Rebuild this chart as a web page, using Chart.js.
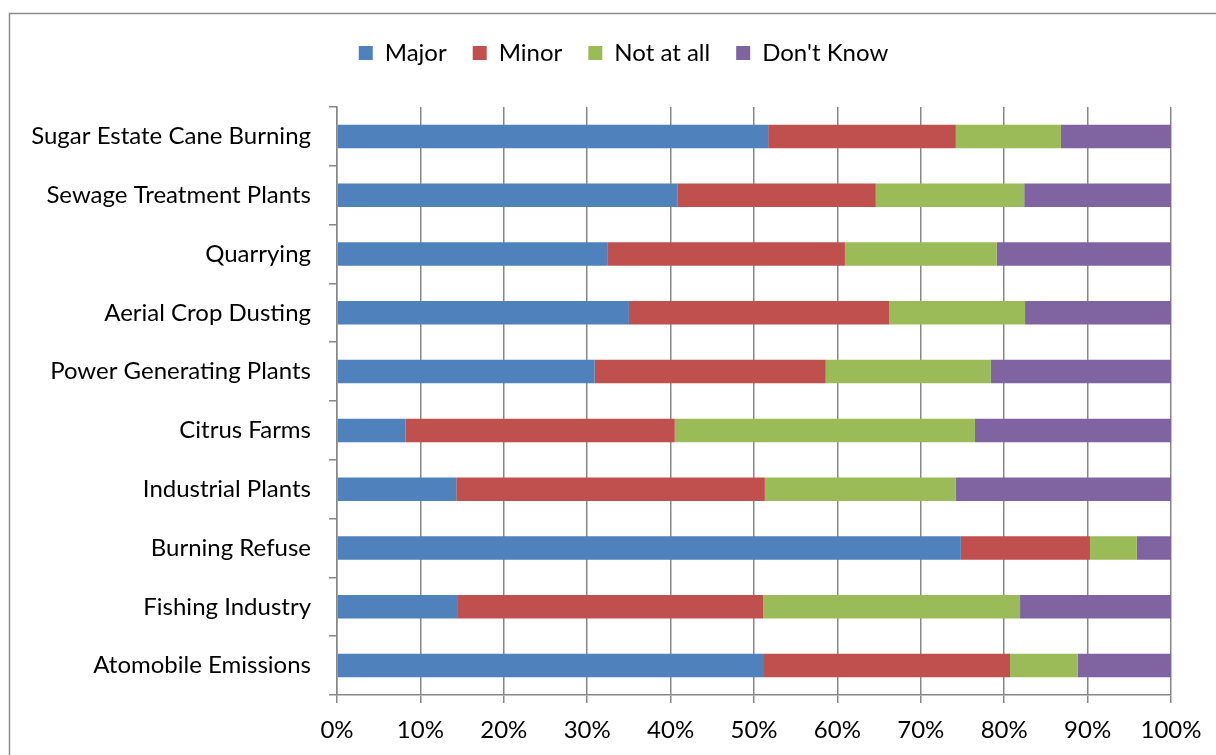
<!DOCTYPE html>
<html>
<head>
<meta charset="utf-8">
<script src="https://cdn.jsdelivr.net/npm/chart.js@4"></script>
<style>
  html, body { margin: 0; padding: 0; background: #fff; }
  canvas { display: block; }
</style>
</head>
<body>
<canvas id="chart" width="1216" height="755"></canvas>
<script>
const categories = [
  "Sugar Estate Cane Burning",
  "Sewage Treatment Plants",
  "Quarrying",
  "Aerial Crop Dusting",
  "Power Generating Plants",
  "Citrus Farms",
  "Industrial Plants",
  "Burning Refuse",
  "Fishing Industry",
  "Atomobile Emissions"
];
const seriesNames = ["Major", "Minor", "Not at all", "Don't Know"];
const major    = [51.7, 40.8, 32.4, 35.0, 30.9,  8.2, 14.3, 74.8, 14.4, 51.2];
const minor    = [22.5, 23.8, 28.5, 31.2, 27.7, 32.3, 37.0, 15.5, 36.7, 29.5];
const notAtAll = [12.6, 17.8, 18.2, 16.3, 19.8, 36.0, 22.9,  5.6, 30.8,  8.1];
const dontKnow = [13.2, 17.6, 20.9, 17.5, 21.6, 23.5, 25.8,  4.1, 18.1, 11.2];
const colors = ["#4F81BD", "#C0504D", "#9BBB59", "#8064A2"];

const FONT = "Lato";
const gridColor = "#878787";
const padTop = 15;
const legendShift = 38;

// outer frame of the chart object + legend placement
const framePlugin = {
  id: "frame",
  beforeDraw(chart) {
    const ctx = chart.ctx;
    ctx.save();
    ctx.strokeStyle = "#8c8c8c";
    ctx.lineWidth = 1.5;
    ctx.strokeRect(9.5, 13.5, 1400, 1000);
    ctx.restore();
  },
  beforeLayout(chart) {
    // leave a gap between legend and plot area
    const lg = chart.legend;
    if (lg && !lg._gapPatched) {
      const fit = lg.fit;
      lg.fit = function () {
        fit.call(this);
        this.height = 107 - padTop;
      };
      lg._gapPatched = true;
    }
  },
  afterLayout(chart) {
    const lg = chart.legend;
    if (lg) {
      lg.left += legendShift;
      lg.right += legendShift;
    }
  }
};

const allSeries = [major, minor, notAtAll, dontKnow];

new Chart(document.getElementById("chart"), {
  type: "bar",
  data: {
    labels: categories,
    datasets: allSeries.map((d, i) => ({
      label: seriesNames[i],
      data: d,
      backgroundColor: colors[i],
      borderWidth: 0,
      barPercentage: 0.4,
      categoryPercentage: 1.0
    }))
  },
  options: {
    indexAxis: "y",
    responsive: false,
    animation: false,
    layout: { padding: { top: padTop, left: 0, right: 45, bottom: 0 } },
    plugins: {
      legend: {
        position: "top",
        labels: {
          boxWidth: 14,
          boxHeight: 14,
          padding: 26,
          color: "#000",
          font: { family: FONT, size: 24 }
        }
      },
      tooltip: { enabled: false }
    },
    scales: {
      x: {
        stacked: true,
        min: 0,
        max: 100,
        ticks: {
          stepSize: 10,
          color: "#000",
          padding: 13,
          font: { family: FONT, size: 24 },
          callback: v => v + "%"
        },
        grid: { color: gridColor, lineWidth: 1.5, tickLength: 8 },
        border: { color: gridColor, width: 1.5 },
        afterFit: s => { s.height = 60; }
      },
      y: {
        stacked: true,
        ticks: {
          color: "#000",
          padding: 18,
          font: { family: FONT, size: 24 }
        },
        grid: { drawOnChartArea: false, color: gridColor, lineWidth: 1.5, tickLength: 8, offset: true },
        border: { color: gridColor, width: 1.5 },
        afterFit: s => { s.width = 337; }
      }
    }
  },
  plugins: [framePlugin]
});
</script>
</body>
</html>
